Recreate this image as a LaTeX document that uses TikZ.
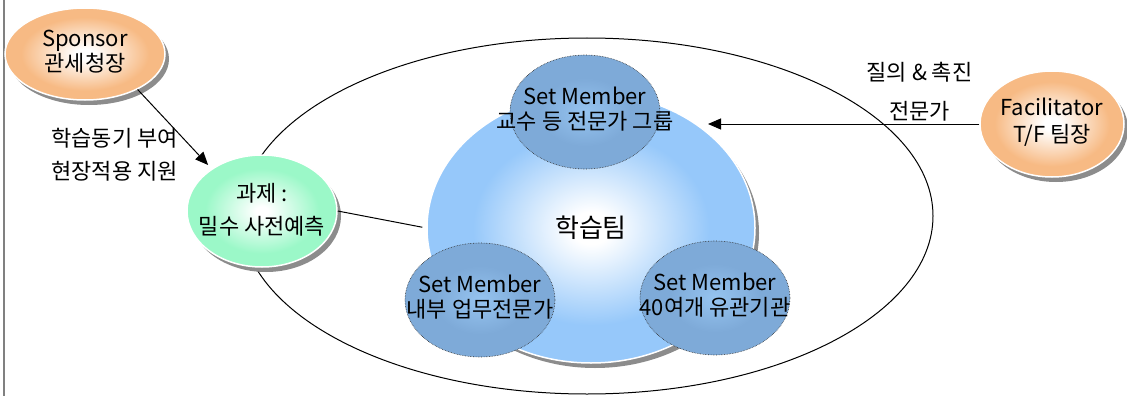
\documentclass[tikz,border=0pt]{standalone}
\usepackage{fontspec}
\setmainfont{Noto Sans CJK KR}
\usetikzlibrary{shapes.geometric,shadows,positioning,arrows.meta}

\definecolor{sponsorpeach}{RGB}{247,186,132}
\definecolor{taskmint}{RGB}{155,248,200}
\definecolor{teamblue}{RGB}{150,200,250}
\definecolor{memberblue}{RGB}{126,170,216}
\definecolor{membercore}{RGB}{150,196,240}

% path box is the inner 25bp radius of the shading
\pgfdeclareradialshading{peachball}{\pgfpoint{0bp}{0bp}}{color(0bp)=(white); color(3bp)=(white); color(20bp)=(sponsorpeach); color(50bp)=(sponsorpeach)}
\pgfdeclareradialshading{mintball}{\pgfpoint{0bp}{0bp}}{color(0bp)=(white); color(2bp)=(white); color(19bp)=(taskmint); color(50bp)=(taskmint)}
\pgfdeclareradialshading{skyball}{\pgfpoint{0bp}{0bp}}{color(0bp)=(white); color(3bp)=(white); color(18bp)=(teamblue); color(50bp)=(teamblue)}
\pgfdeclareradialshading{memberball}{\pgfpoint{0bp}{0bp}}{color(0bp)=(membercore); color(15bp)=(memberblue); color(50bp)=(memberblue)}

\newcommand{\bubbletext}[1]{\makebox[0pt]{\begin{tabular}{@{}c@{}}#1\end{tabular}}}

\begin{document}
\begin{tikzpicture}[x=1pt, y=-1pt, node distance=100pt,
    bubble/.style={ellipse, draw=white, line width=1.5pt, inner sep=0pt, shade,
      drop shadow={shadow xshift=4pt, shadow yshift=-5pt, fill=black!45, opacity=1}},
    member/.style={ellipse, draw=black!80, densely dotted, line width=0.6pt, shade, shading=memberball,
      minimum width=150pt, minimum height=114pt, inner sep=0pt},
    note/.style={inner sep=0pt, align=center, font=\fontsize{22}{39}\selectfont}]
        \tikzstyle{every node}=[font=\fontsize{22}{25}\selectfont]
        \useasboundingbox (0,0) rectangle (1127,396);
        \draw[black!50, line width=1.5pt] (4,0) -- (4,396);

          \node[ellipse, draw, line width=1pt, minimum width=692pt, minimum height=356pt] (field) at (587,216) {};
          \node[bubble, shading=skyball, minimum width=328pt, minimum height=270pt, font=\fontsize{26}{30}\selectfont] (team) [below of=field, node distance=12pt, xshift=4pt] {학습팀};
          \node[member] (expert) [above of=team, node distance=116pt, xshift=-6pt] {\bubbletext{Set Member\\교수 등 전문가 그룹}};
          \node[member] (inhouse) [left of=team, node distance=111pt, yshift=-72pt] {\bubbletext{Set Member\\내부 업무전문가}};
          \node[member] (agency) [right of=team, node distance=124pt, yshift=-70pt] {\bubbletext{Set Member\\40여개 유관기관}};
          \node[bubble, shading=mintball, minimum width=150pt, minimum height=112pt, font=\fontsize{22}{33}\selectfont] (task) [left of=team, node distance=329pt, yshift=17pt] {\bubbletext{과제 :\\밀수 사전예측}};
          \node[bubble, shading=peachball, minimum width=160pt, minimum height=92pt] (spon) [left of=task, node distance=177pt, yshift=157pt] {\bubbletext{Sponsor\\관세청장}};
          \node[bubble, shading=peachball, minimum width=144pt, minimum height=106pt, font=\fontsize{22}{27}\selectfont] (fac) [right of=team, node distance=461pt, yshift=104pt] {\bubbletext{Facilitator\\T/F 팀장}};
          \coordinate (facaim) at (708,124);

          \path[line width=1pt, -{Triangle[length=13pt,width=11pt]}]
            (spon.-34) edge[shorten >=5pt] node [left=20pt, pos=0.82, note, align=left, font=\fontsize{22}{33}\selectfont] {학습동기 부여\\현장적용 지원} (task.140)
            (fac.west) edge node [above=2pt, pos=0.22, note] {질의 \& 촉진\\전문가} (facaim);
          \draw[line width=1pt, shorten >=4pt] (task.east) -- (team.west);

        \end{tikzpicture}
\end{document}
